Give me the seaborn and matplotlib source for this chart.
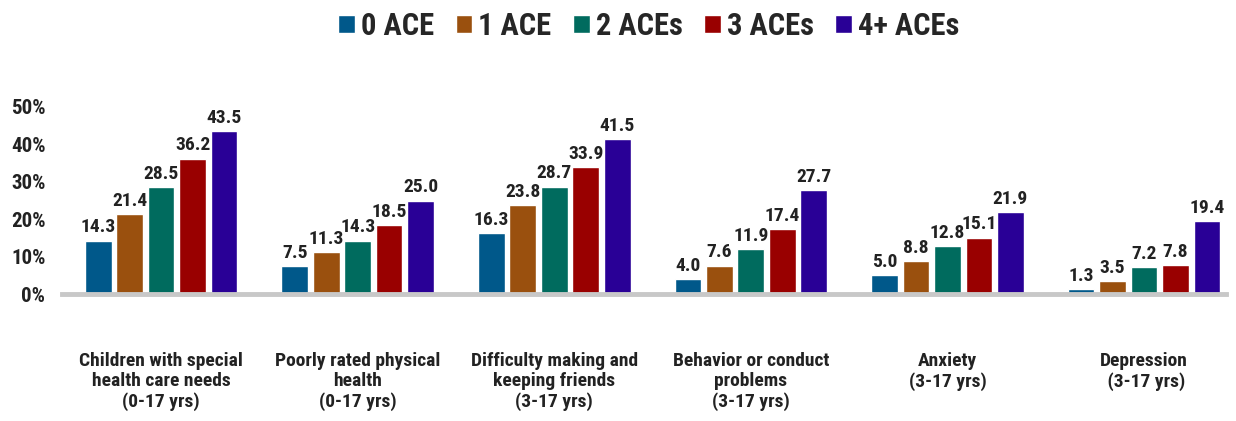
# ACE outcomes grouped bar chart
import pandas as pd
import numpy as np
import matplotlib
matplotlib.use('Agg')
import matplotlib.pyplot as plt
import seaborn as sns

sns.set_style('white')
plt.rcParams['font.family'] = ['Roboto Condensed', 'DejaVu Sans']
plt.rcParams['font.weight'] = 'bold'

# data
categories = ['Children with special\nhealth care needs\n(0-17 yrs)',
              'Poorly rated physical\nhealth\n(0-17 yrs)',
              'Difficulty making and\nkeeping friends\n(3-17 yrs)',
              'Behavior or conduct\nproblems\n(3-17 yrs)',
              'Anxiety\n(3-17 yrs)',
              'Depression\n (3-17 yrs)']
groups = ['0 ACE', '1 ACE', '2 ACEs', '3 ACEs', '4+ ACEs']
ace0 = [14.3, 7.5, 16.3, 4.0, 5.0, 1.3]
ace1 = [21.4, 11.3, 23.8, 7.6, 8.8, 3.5]
ace2 = [28.5, 14.3, 28.7, 11.9, 12.8, 7.2]
ace3 = [36.2, 18.5, 33.9, 17.4, 15.1, 7.8]
ace4 = [43.5, 25.0, 41.5, 27.7, 21.9, 19.4]
yticks = [0, 10, 20, 30, 40, 50]

colors = ['#00588A', '#9A500E', '#006B5E', '#990000', '#290096']

rows = []
for g, vals in zip(groups, [ace0, ace1, ace2, ace3, ace4]):
    for c, v in zip(categories, vals):
        rows.append({'Measure': c, 'Group': g, 'Value': v})
df = pd.DataFrame(rows)

fig = plt.figure(figsize=(12.36, 4.21), dpi=100)
ax = fig.add_axes([62 / 1236, 1 - 294 / 421, (1226 - 62) / 1236, (294 - 107) / 421])

sns.barplot(data=df, x='Measure', y='Value', hue='Group', palette=colors,
            order=categories, hue_order=groups, width=0.8, gap=0.15,
            saturation=1, ax=ax, legend=True)

for cont in ax.containers:
    ax.bar_label(cont, fmt='%.1f', padding=3, fontsize=14, fontweight='bold',
                 color='#222222')

ax.set_ylim(0, 50)
ax.set_xlim(-0.504, 5.417)
ax.set_yticks(yticks)
ax.set_yticklabels([f'{t}%' for t in yticks], fontsize=15, fontweight='bold', color='#222222')
ax.tick_params(axis='y', length=0, pad=12)
ax.tick_params(axis='x', length=0, pad=42)
for lab in ax.get_xticklabels():
    lab.set_fontsize(14)
    lab.set_fontweight('bold')
    lab.set_color('#222222')
    lab.set_linespacing(1.15)
ax.set_xlabel('')
ax.set_ylabel('')

for s in ['top', 'right', 'left']:
    ax.spines[s].set_visible(False)
ax.spines['bottom'].set_color('#C8C8C8')
ax.spines['bottom'].set_linewidth(3.5)
ax.spines['bottom'].set_zorder(5)

handles, labels = ax.get_legend_handles_labels()
ax.legend_.remove()
fig.legend(handles, labels, loc='upper center', bbox_to_anchor=(0.525, 1.04),
           ncol=5, frameon=False, handlelength=0.55, handleheight=0.55,
           handletextpad=0.2, columnspacing=0.7, prop={'weight': 'bold', 'size': 22})

fig.savefig('out.png', dpi=100)
